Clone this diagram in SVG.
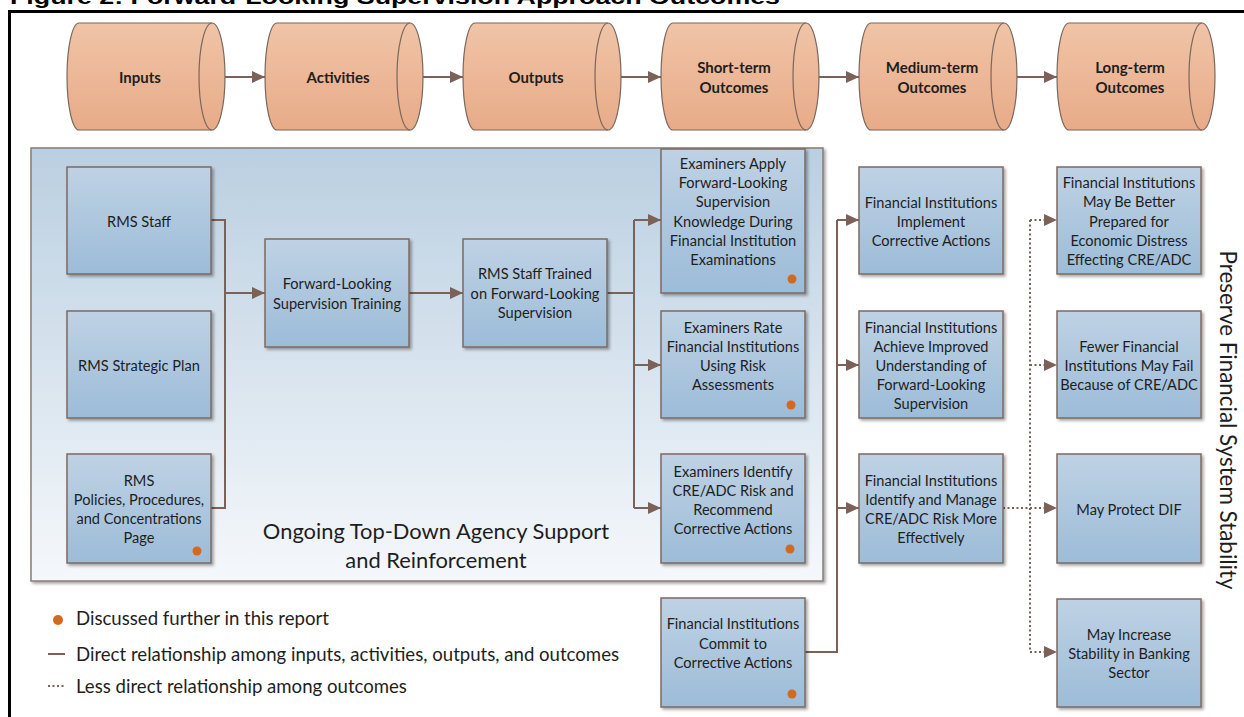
<svg xmlns="http://www.w3.org/2000/svg" width="1244" height="717" viewBox="0 0 1244 717">
<defs>
<linearGradient id="gCyl" x1="0" y1="0" x2="0" y2="1"><stop offset="0" stop-color="#f0c4a7"/><stop offset="1" stop-color="#e8ab88"/></linearGradient>
<linearGradient id="gBox" x1="0" y1="0" x2="0" y2="1"><stop offset="0" stop-color="#bfd2e4"/><stop offset="1" stop-color="#9cbcd8"/></linearGradient>
<linearGradient id="gCont" x1="0" y1="0" x2="0" y2="1"><stop offset="0" stop-color="#bacfe1"/><stop offset="1" stop-color="#f5f8fb"/></linearGradient>
<filter id="sh" x="-10%" y="-10%" width="130%" height="130%"><feDropShadow dx="2" dy="2" stdDeviation="1.5" flood-color="#000" flood-opacity="0.35"/></filter>
<marker id="ah" markerWidth="14" markerHeight="13" refX="13" refY="6.5" orient="auto" markerUnits="userSpaceOnUse"><path d="M0,0.5 L13,6.5 L0,12.5 Z" fill="#7b6158"/></marker>
</defs>
<style>
.cyl{fill:url(#gCyl);stroke:#7a675d;stroke-width:1.2}
.cin{fill:none;stroke:#7a675d;stroke-width:1.2}
.ct{font-family:Lato,"Open Sans",sans-serif;font-weight:bold;font-size:15px;fill:#1e1e1e;text-anchor:middle;dominant-baseline:central}
.box{fill:url(#gBox);stroke:#7d6a62;stroke-width:1.5;filter:url(#sh)}
.bt{font-family:Lato,"Open Sans",sans-serif;font-size:14.6px;fill:#1e1e1e;text-anchor:middle;dominant-baseline:central}
.dot{fill:#d2691f}
.ln{fill:none;stroke:#7b6158;stroke-width:2}
.dl{fill:none;stroke:#7b6158;stroke-width:2;stroke-dasharray:2 2.5}
.lg{font-family:Lato,"Open Sans",sans-serif;font-size:18.6px;fill:#1e1e1e;dominant-baseline:central}
.big{font-family:Lato,"Open Sans",sans-serif;font-size:21.9px;fill:#1e1e1e;text-anchor:middle;dominant-baseline:central}
</style>
<text x="10" y="4" font-family="Liberation Sans, Arial, sans-serif" font-weight="bold" font-size="20" fill="#000" textLength="770" lengthAdjust="spacingAndGlyphs">Figure 2: Forward-Looking Supervision Approach Outcomes</text>
<path d="M9.5,717 V11.5 H1244" fill="none" stroke="#000" stroke-width="3"/>

<g id="cyl-inputs"><path class="cyl" d="M79,23 H212 A13 53.5 0 0 1 212,130 H79 A12 53.5 0 0 1 79,23 Z"/><path class="cin" d="M212,23 A13 53.5 0 0 0 212,130"/><text class="ct" x="140" y="77">Inputs</text></g>
<g id="cyl-activities"><path class="cyl" d="M277,23 H410 A13 53.5 0 0 1 410,130 H277 A12 53.5 0 0 1 277,23 Z"/><path class="cin" d="M410,23 A13 53.5 0 0 0 410,130"/><text class="ct" x="338" y="77">Activities</text></g>
<g id="cyl-outputs"><path class="cyl" d="M475,23 H608 A13 53.5 0 0 1 608,130 H475 A12 53.5 0 0 1 475,23 Z"/><path class="cin" d="M608,23 A13 53.5 0 0 0 608,130"/><text class="ct" x="536" y="77">Outputs</text></g>
<g id="cyl-short"><path class="cyl" d="M673,23 H806 A13 53.5 0 0 1 806,130 H673 A12 53.5 0 0 1 673,23 Z"/><path class="cin" d="M806,23 A13 53.5 0 0 0 806,130"/><text class="ct" x="734" y="67">Short-term</text><text class="ct" x="734" y="87">Outcomes</text></g>
<g id="cyl-medium"><path class="cyl" d="M871,23 H1004 A13 53.5 0 0 1 1004,130 H871 A12 53.5 0 0 1 871,23 Z"/><path class="cin" d="M1004,23 A13 53.5 0 0 0 1004,130"/><text class="ct" x="932" y="67">Medium-term</text><text class="ct" x="932" y="87">Outcomes</text></g>
<g id="cyl-long"><path class="cyl" d="M1069,23 H1202 A13 53.5 0 0 1 1202,130 H1069 A12 53.5 0 0 1 1069,23 Z"/><path class="cin" d="M1202,23 A13 53.5 0 0 0 1202,130"/><text class="ct" x="1130" y="67">Long-term</text><text class="ct" x="1130" y="87">Outcomes</text></g>

<g id="container"><rect x="31" y="148" width="792" height="433" fill="url(#gCont)" stroke="#8b7b74" stroke-width="1.5" filter="url(#sh)"/>
<text class="big" x="436" y="530">Ongoing Top-Down Agency Support</text>
<text class="big" x="436" y="559">and Reinforcement</text></g>

<g id="connectors">
<path class="ln" d="M225,77 H265" marker-end="url(#ah)"/>
<path class="ln" d="M423,77 H463" marker-end="url(#ah)"/>
<path class="ln" d="M621,77 H661" marker-end="url(#ah)"/>
<path class="ln" d="M819,77 H859" marker-end="url(#ah)"/>
<path class="ln" d="M1017,77 H1057" marker-end="url(#ah)"/>
<path class="ln" d="M211,220 H225 V508 H211"/>
<path class="ln" d="M225,293 H265" marker-end="url(#ah)"/>
<path class="ln" d="M409,293 H463" marker-end="url(#ah)"/>
<path class="ln" d="M607,293 H634"/>
<path class="ln" d="M634,220 V508"/>
<path class="ln" d="M634,220 H661" marker-end="url(#ah)"/>
<path class="ln" d="M634,365 H661" marker-end="url(#ah)"/>
<path class="ln" d="M634,508 H661" marker-end="url(#ah)"/>
<path class="ln" d="M805,652 H837 V220"/>
<path class="ln" d="M837,220 H859" marker-end="url(#ah)"/>
<path class="ln" d="M837,365 H859" marker-end="url(#ah)"/>
<path class="ln" d="M837,508 H859" marker-end="url(#ah)"/>
<path class="dl" d="M1003,508 H1057" marker-end="url(#ah)"/>
<path class="dl" d="M1030,220 V652"/>
<path class="dl" d="M1030,220 H1057" marker-end="url(#ah)"/>
<path class="dl" d="M1030,365 H1057" marker-end="url(#ah)"/>
<path class="dl" d="M1030,652 H1057" marker-end="url(#ah)"/>
</g>

<g id="rms-staff"><rect class="box" x="67" y="167" width="144" height="107"/><text class="bt" x="139" y="221">RMS Staff</text></g>
<g id="rms-plan"><rect class="box" x="67" y="311" width="144" height="107"/><text class="bt" x="139" y="365">RMS Strategic Plan</text></g>
<g id="rms-policies"><rect class="box" x="67" y="454" width="144" height="109"/><text class="bt" x="139" y="480">RMS</text><text class="bt" x="139" y="499">Policies, Procedures,</text><text class="bt" x="139" y="518">and Concentrations</text><text class="bt" x="139" y="537">Page</text><circle class="dot" cx="197" cy="551" r="4.5"/></g>
<g id="training"><rect class="box" x="265" y="239" width="144" height="108"/><text class="bt" x="337" y="283">Forward-Looking</text><text class="bt" x="337" y="303">Supervision Training</text></g>
<g id="trained"><rect class="box" x="463" y="239" width="144" height="108"/><text class="bt" x="535" y="273">RMS Staff Trained</text><text class="bt" x="535" y="293">on Forward-Looking</text><text class="bt" x="535" y="312">Supervision</text></g>
<g id="ex-apply"><rect class="box" x="661" y="149" width="144" height="144"/><text class="bt" x="733" y="163">Examiners Apply</text><text class="bt" x="733" y="182">Forward-Looking</text><text class="bt" x="733" y="201">Supervision</text><text class="bt" x="733" y="221">Knowledge During</text><text class="bt" x="733" y="240">Financial Institution</text><text class="bt" x="733" y="259">Examinations</text><circle class="dot" cx="792" cy="279" r="4.5"/></g>
<g id="ex-rate"><rect class="box" x="661" y="311" width="144" height="107"/><text class="bt" x="733" y="327">Examiners Rate</text><text class="bt" x="733" y="346">Financial Institutions</text><text class="bt" x="733" y="365">Using Risk</text><text class="bt" x="733" y="384">Assessments</text><circle class="dot" cx="791" cy="405" r="4.5"/></g>
<g id="ex-identify"><rect class="box" x="661" y="454" width="144" height="109"/><text class="bt" x="733" y="471">Examiners Identify</text><text class="bt" x="733" y="490">CRE/ADC Risk and</text><text class="bt" x="733" y="509">Recommend</text><text class="bt" x="733" y="528">Corrective Actions</text><circle class="dot" cx="790" cy="549" r="4.5"/></g>
<g id="fi-commit"><rect class="box" x="661" y="598" width="144" height="109"/><text class="bt" x="733" y="623">Financial Institutions</text><text class="bt" x="733" y="643">Commit to</text><text class="bt" x="733" y="662">Corrective Actions</text><circle class="dot" cx="792" cy="694" r="4.5"/></g>
<g id="fi-implement"><rect class="box" x="859" y="167" width="144" height="107"/><text class="bt" x="931" y="202">Financial Institutions</text><text class="bt" x="931" y="221">Implement</text><text class="bt" x="931" y="240">Corrective Actions</text></g>
<g id="fi-achieve"><rect class="box" x="859" y="311" width="144" height="107"/><text class="bt" x="931" y="327">Financial Institutions</text><text class="bt" x="931" y="346">Achieve Improved</text><text class="bt" x="931" y="365">Understanding of</text><text class="bt" x="931" y="384">Forward-Looking</text><text class="bt" x="931" y="403">Supervision</text></g>
<g id="fi-identify"><rect class="box" x="859" y="454" width="144" height="109"/><text class="bt" x="931" y="480">Financial Institutions</text><text class="bt" x="931" y="499">Identify and Manage</text><text class="bt" x="931" y="518">CRE/ADC Risk More</text><text class="bt" x="931" y="537">Effectively</text></g>
<g id="better-prepared"><rect class="box" x="1057" y="167" width="144" height="107"/><text class="bt" x="1129" y="182">Financial Institutions</text><text class="bt" x="1129" y="201">May Be Better</text><text class="bt" x="1129" y="221">Prepared for</text><text class="bt" x="1129" y="240">Economic Distress</text><text class="bt" x="1129" y="259">Effecting CRE/ADC</text></g>
<g id="fewer-fail"><rect class="box" x="1057" y="311" width="144" height="107"/><text class="bt" x="1129" y="346">Fewer Financial</text><text class="bt" x="1129" y="365">Institutions May Fail</text><text class="bt" x="1129" y="384">Because of CRE/ADC</text></g>
<g id="protect-dif"><rect class="box" x="1057" y="454" width="144" height="109"/><text class="bt" x="1129" y="509">May Protect DIF</text></g>
<g id="increase-stability"><rect class="box" x="1057" y="599" width="144" height="108"/><text class="bt" x="1129" y="634">May Increase</text><text class="bt" x="1129" y="653">Stability in Banking</text><text class="bt" x="1129" y="672">Sector</text></g>

<text class="big" transform="translate(1228,420) rotate(90)" style="font-size:22.4px">Preserve Financial System Stability</text>

<g id="legend">
<circle class="dot" cx="58" cy="620" r="5"/><text class="lg" x="76" y="618">Discussed further in this report</text>
<path class="ln" d="M48,654 H65"/><text class="lg" x="76" y="654">Direct relationship among inputs, activities, outputs, and outcomes</text>
<path class="dl" d="M48,686 H65"/><text class="lg" x="76" y="686">Less direct relationship among outcomes</text>
</g>
</svg>
